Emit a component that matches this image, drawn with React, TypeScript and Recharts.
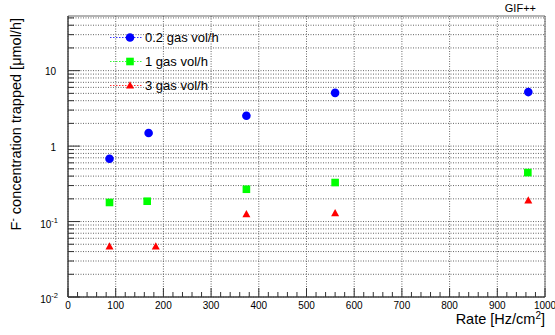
import { ScatterChart, Scatter, XAxis, YAxis, CartesianGrid, ReferenceArea, Label } from 'recharts';

// readings taken off the reference plot
const rate02 = [87, 169, 374, 560, 965];
const conc02 = [0.68, 1.49, 2.52, 5.08, 5.2];
const rate1 = [87, 166, 374, 560, 964];
const conc1 = [0.179, 0.186, 0.268, 0.329, 0.446];
const rate3 = [87, 184, 374, 560, 965];
const conc3 = [0.0467, 0.0467, 0.125, 0.129, 0.19];

const seriesNames = ['0.2 gas vol/h', '1 gas vol/h', '3 gas vol/h'];
const seriesColors = ['#0000ff', '#00ff00', '#ff0000'];

const xMajor = [0, 100, 200, 300, 400, 500, 600, 700, 800, 900, 1000];
const yDecades = [0.01, 0.1, 1, 10];
const yMax = 53;

const xTicks: number[] = [];
for (let i = 0; i <= 1000; i += 20) xTicks.push(i);
const yTicks: number[] = [];
for (const d of yDecades) {
  for (let k = 1; k <= 9; k++) {
    const v = +(d * k).toPrecision(3);
    if (v <= yMax) yTicks.push(v);
  }
}

const FONT = '"Liberation Sans", Arial, Helvetica, sans-serif';
const AXIS = '#333';

const toPoints = (xs: number[], ys: number[]) => xs.map((x, i) => ({ x, y: ys[i] }));

const Marker = ({ kind, cx, cy }: { kind: number; cx: number; cy: number }) => {
  if (kind === 0) return <circle cx={cx} cy={cy} r={4.3} fill={seriesColors[0]} />;
  if (kind === 1) return <rect x={cx - 3.8} y={cy - 3.8} width={7.6} height={7.6} fill={seriesColors[1]} />;
  return <polygon points={`${cx},${cy - 4.2} ${cx + 4},${cy + 3} ${cx - 4},${cy + 3}`} fill={seriesColors[2]} />;
};

const XTick = (props: any) => {
  const { x, y, payload } = props;
  const major = payload.value % 100 === 0;
  return (
    <g>
      <line x1={x} y1={y} x2={x} y2={y - (major ? 9 : 5)} stroke={AXIS} />
      {major && (
        <text x={x} y={y + 12} textAnchor="middle" fontSize={10} fontFamily={FONT} fill="#000">
          {payload.value}
        </text>
      )}
    </g>
  );
};

const YTick = (props: any) => {
  const { x, y, payload } = props;
  const v = payload.value;
  const decade = yDecades.includes(v);
  let label: any = null;
  if (v === 0.01 || v === 0.1) {
    label = (
      <text x={x - 10} y={y + 6} textAnchor="end" fontSize={10} fontFamily={FONT} fill="#000">
        10
        <tspan dy={-5} fontSize={7.5}>{v === 0.01 ? '-2' : '-1'}</tspan>
      </text>
    );
  } else if (decade) {
    label = (
      <text x={x - 12} y={y + 4.5} textAnchor="end" fontSize={10} fontFamily={FONT} fill="#000">
        {v}
      </text>
    );
  }
  return (
    <g>
      <line x1={x} y1={y} x2={x + (decade ? 12 : 6)} y2={y} stroke={AXIS} />
      {label}
    </g>
  );
};

const Legend = () => (
  <div style={{ position: 'absolute', left: 108, top: 26, width: 120, height: 72 }}>
    <svg width={120} height={72} style={{ display: 'block' }}>
      {seriesNames.map((name, i) => {
        const cy = 11.5 + i * 24;
        return (
          <g key={name}>
            <line x1={2} y1={cy} x2={34} y2={cy} stroke={seriesColors[i]} strokeDasharray="1.5 1.5" strokeWidth={0.8} />
            <Marker kind={i} cx={22} cy={cy} />
            <text x={37} y={cy + 4.5} fontSize={13} fontFamily={FONT} fill="#000">
              {name}
            </text>
          </g>
        );
      })}
    </svg>
  </div>
);

export default function App() {
  const data = [toPoints(rate02, conc02), toPoints(rate1, conc1), toPoints(rate3, conc3)];
  return (
    <div style={{ position: 'absolute', left: 0, top: 0, width: 555, height: 335, background: '#fff' }}>
      <ScatterChart width={555} height={335} margin={{ top: 16, right: 10, bottom: 0, left: 8 }}>
        <CartesianGrid
          stroke="#666"
          strokeDasharray="1 1.5"
          horizontalValues={yTicks}
          verticalValues={xMajor}
        />
        <XAxis
          type="number"
          dataKey="x"
          domain={[0, 1000]}
          ticks={xTicks}
          interval={0}
          height={38}
          tickSize={0}
          tickMargin={0}
          tickLine={false}
          tick={XTick}
          stroke={AXIS}
        >
          <Label
            content={(p: any) => {
              const vb = p.viewBox;
              return (
                <text x={vb.x + vb.width} y={vb.y + 27} textAnchor="end" fontSize={14.5} fontFamily={FONT} fill="#000">
                  Rate [Hz/cm
                  <tspan dy={-5} fontSize={10}>2</tspan>
                  <tspan dy={5}>]</tspan>
                </text>
              );
            }}
          />
        </XAxis>
        <YAxis
          type="number"
          dataKey="y"
          scale="log"
          domain={[0.01, yMax]}
          ticks={yTicks}
          interval={0}
          width={60}
          tickSize={0}
          tickMargin={0}
          tickLine={false}
          tick={YTick}
          stroke={AXIS}
          allowDataOverflow
        >
          <Label
            content={(p: any) => {
              const vb = p.viewBox;
              return (
                <text
                  transform={`translate(${vb.x + 13}, ${vb.y + 2}) rotate(-90)`}
                  textAnchor="end"
                  fontSize={14.5}
                  fontFamily={FONT}
                  fill="#000"
                >
                  F<tspan dy={-5} fontSize={10}>-</tspan>
                  <tspan dy={5}> concentration trapped [μmol/h]</tspan>
                </text>
              );
            }}
          />
        </YAxis>
        <ReferenceArea x1={0} x2={1000} y1={0.01} y2={yMax} fill="none" stroke="#666" strokeWidth={1} />
        {data.map((pts, i) => (
          <Scatter
            key={seriesNames[i]}
            name={seriesNames[i]}
            data={pts}
            isAnimationActive={false}
            shape={(p: any) => <Marker kind={i} cx={p.cx} cy={p.cy} />}
          />
        ))}
      </ScatterChart>
      <Legend />
      <div
        style={{
          position: 'absolute',
          right: 19,
          top: 2,
          fontFamily: FONT,
          fontSize: 11,
          color: '#000',
        }}
      >
        GIF++
      </div>
    </div>
  );
}
